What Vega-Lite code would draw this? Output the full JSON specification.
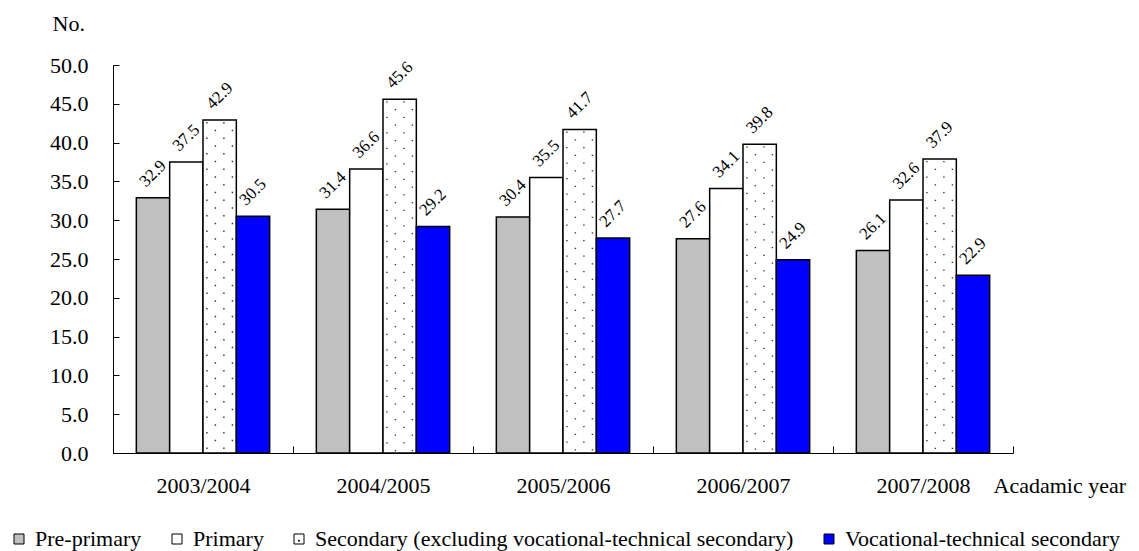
{
  "$schema": "https://vega.github.io/schema/vega-lite/v6.json",
  "width": 900,
  "height": 388,
  "autosize": {"type": "none"},
  "padding": {"left": 113, "top": 65, "right": 126, "bottom": 98},
  "background": "white",
  "config": {"view": {"stroke": null}, "font": "'Liberation Serif', 'Times New Roman', Times, serif"},
  "data": {
    "values": [
      {"year": "2003/2004", "series": "Pre-primary", "value": 32.9},
      {"year": "2003/2004", "series": "Primary", "value": 37.5},
      {"year": "2003/2004", "series": "Secondary (excluding vocational-technical secondary)", "value": 42.9},
      {"year": "2003/2004", "series": "Vocational-technical secondary", "value": 30.5},
      {"year": "2004/2005", "series": "Pre-primary", "value": 31.4},
      {"year": "2004/2005", "series": "Primary", "value": 36.6},
      {"year": "2004/2005", "series": "Secondary (excluding vocational-technical secondary)", "value": 45.6},
      {"year": "2004/2005", "series": "Vocational-technical secondary", "value": 29.2},
      {"year": "2005/2006", "series": "Pre-primary", "value": 30.4},
      {"year": "2005/2006", "series": "Primary", "value": 35.5},
      {"year": "2005/2006", "series": "Secondary (excluding vocational-technical secondary)", "value": 41.7},
      {"year": "2005/2006", "series": "Vocational-technical secondary", "value": 27.7},
      {"year": "2006/2007", "series": "Pre-primary", "value": 27.6},
      {"year": "2006/2007", "series": "Primary", "value": 34.1},
      {"year": "2006/2007", "series": "Secondary (excluding vocational-technical secondary)", "value": 39.8},
      {"year": "2006/2007", "series": "Vocational-technical secondary", "value": 24.9},
      {"year": "2007/2008", "series": "Pre-primary", "value": 26.1},
      {"year": "2007/2008", "series": "Primary", "value": 32.6},
      {"year": "2007/2008", "series": "Secondary (excluding vocational-technical secondary)", "value": 37.9},
      {"year": "2007/2008", "series": "Vocational-technical secondary", "value": 22.9}
    ]
  },
  "encoding": {
    "x": {
      "field": "year", "type": "nominal", "sort": null,
      "scale": {"paddingInner": 0, "paddingOuter": 0},
      "axis": {
        "title": "Acadamic year", "titleX": 880, "titleY": 39, "titleAlign": "left", "titleAnchor": "start",
        "titleBaseline": "alphabetic", "titleFont": "'Liberation Serif', 'Times New Roman', Times, serif", "titleFontSize": 22,
        "titleFontWeight": "normal", "titleColor": "black",
        "labelAngle": 0, "labelFont": "'Liberation Serif', 'Times New Roman', Times, serif", "labelFontSize": 22, "labelColor": "black",
        "labelBaseline": "alphabetic", "labelPadding": 46,
        "tickBand": "extent", "tickSize": -7, "tickColor": "black", "tickWidth": 1,
        "domainColor": "black", "domainWidth": 1, "grid": false
      }
    },
    "y": {
      "field": "value", "type": "quantitative",
      "scale": {"domain": [0, 50], "nice": false, "zero": true},
      "axis": {
        "title": "No.", "titleAngle": 0, "titleX": -61, "titleY": -35, "titleAlign": "left", "titleAnchor": "start",
        "titleBaseline": "alphabetic", "titleFont": "'Liberation Serif', 'Times New Roman', Times, serif", "titleFontSize": 22,
        "titleFontWeight": "normal", "titleColor": "black",
        "values": [0, 5, 10, 15, 20, 25, 30, 35, 40, 45, 50], "format": ".1f",
        "labelFont": "'Liberation Serif', 'Times New Roman', Times, serif", "labelFontSize": 22, "labelColor": "black", "labelPadding": 31,
        "tickSize": -6, "tickColor": "black", "tickWidth": 1,
        "domainColor": "black", "domainWidth": 1, "grid": false
      }
    }
  },
  "layer": [
    {
      "mark": {"type": "bar", "stroke": "black", "strokeWidth": 1.5},
      "encoding": {
        "xOffset": {
          "field": "series", "type": "nominal",
          "scale": {
            "domain": ["Pre-primary", "Primary", "Secondary (excluding vocational-technical secondary)", "Vocational-technical secondary"],
            "paddingInner": 0, "paddingOuter": 0.7
          }
        },
        "color": {
          "field": "series", "type": "nominal",
          "scale": {
            "domain": ["Pre-primary", "Primary", "Secondary (excluding vocational-technical secondary)", "Vocational-technical secondary"],
            "range": ["#c0c0c0", "#ffffff", "#ffffff", "#0000ff"]
          },
          "legend": {
            "orient": "none", "legendX": -105, "legendY": 463, "direction": "horizontal", "title": null,
            "symbolType": "square", "symbolSize": 100, "symbolStrokeColor": "black", "symbolStrokeWidth": 1,
            "symbolOpacity": 1,
            "labelFont": "'Liberation Serif', 'Times New Roman', Times, serif", "labelFontSize": 22, "labelColor": "black", "labelOffset": 5,
            "labelLimit": 1000, "columnPadding": 24,
            "encode": {
              "symbols": {
                "update": {
                  "shape": {"signal": "datum.label === 'Secondary (excluding vocational-technical secondary)' ? 'M-1,-1H1V1H-1Z M-0.1,0.25H0.1V0.45H-0.1Z' : 'square'"}
                }
              }
            }
          }
        }
      }
    },
    {
      "transform": [{"filter": "datum.series === 'Secondary (excluding vocational-technical secondary)'"}],
      "mark": {"type": "rule", "color": "#333333", "strokeWidth": 1.4, "strokeDash": [1.4, 14.1], "strokeDashOffset": 13.5, "xOffset": 3.9},
      "encoding": {"y2": {"datum": 0}}
    },
    {
      "transform": [{"filter": "datum.series === 'Secondary (excluding vocational-technical secondary)'"}],
      "mark": {"type": "rule", "color": "#333333", "strokeWidth": 1.4, "strokeDash": [1.4, 14.1], "strokeDashOffset": 5.75, "xOffset": 12.4},
      "encoding": {"y2": {"datum": 0}}
    },
    {
      "transform": [{"filter": "datum.series === 'Secondary (excluding vocational-technical secondary)'"}],
      "mark": {"type": "rule", "color": "#333333", "strokeWidth": 1.4, "strokeDash": [1.4, 14.1], "strokeDashOffset": 13.5, "xOffset": 20.9},
      "encoding": {"y2": {"datum": 0}}
    },
    {
      "transform": [{"filter": "datum.series === 'Secondary (excluding vocational-technical secondary)'"}],
      "mark": {"type": "rule", "color": "#333333", "strokeWidth": 1.4, "strokeDash": [1.4, 14.1], "strokeDashOffset": 5.75, "xOffset": 29.4},
      "encoding": {"y2": {"datum": 0}}
    },
    {
      "mark": {"type": "text", "angle": 315, "align": "center", "baseline": "middle", "dx": 17, "dy": -17,
               "font": "'Liberation Serif', 'Times New Roman', Times, serif", "fontSize": 17, "color": "black"},
      "encoding": {
        "xOffset": {
          "field": "series", "type": "nominal",
          "scale": {
            "domain": ["Pre-primary", "Primary", "Secondary (excluding vocational-technical secondary)", "Vocational-technical secondary"],
            "paddingInner": 0, "paddingOuter": 0.7
          }
        },
        "text": {"field": "value", "type": "quantitative", "format": ".1f"}
      }
    }
  ]
}
